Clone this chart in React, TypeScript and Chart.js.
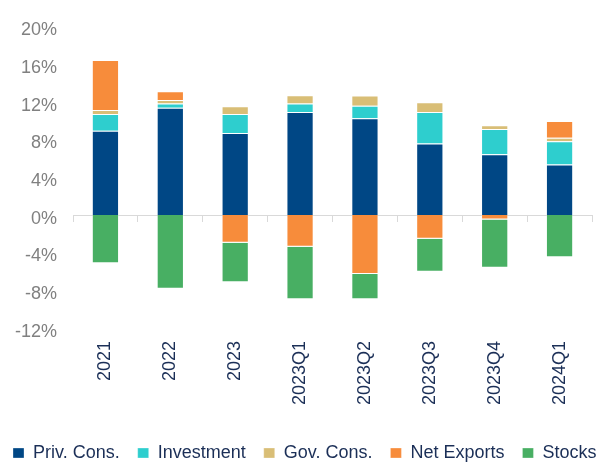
import React, { useEffect, useRef } from 'react';
import { Chart, registerables } from 'chart.js';

Chart.register(...registerables);

const categories = ['2021', '2022', '2023', '2023Q1', '2023Q2', '2023Q3', '2023Q4', '2024Q1'];
const privCons = [8.95, 11.39, 8.71, 10.94, 10.28, 7.59, 6.47, 5.36];
const investment = [1.78, 0.46, 2.02, 0.91, 1.32, 3.35, 2.66, 2.47];
const govCons = [0.42, 0.38, 0.84, 0.87, 1.09, 1.05, 0.42, 0.39];
const netExports = [5.31, 0.91, -2.95, -3.37, -6.26, -2.53, -0.47, 1.78];
const stocks = [-5.11, -7.83, -4.19, -5.58, -2.69, -3.49, -5.13, -4.48];
const yTickLabels = ['-12%', '-8%', '-4%', '0%', '4%', '8%', '12%', '16%', '20%'];

const seriesNames = ['Priv. Cons.', 'Investment', 'Gov. Cons.', 'Net Exports', 'Stocks'];
const seriesColors = ['#004785', '#2ECECE', '#D9BE76', '#F78C3B', '#48AF63'];

const FONT = "'Liberation Sans', Arial, sans-serif";
const NAVY = '#1B2F57';

export default function App() {
  const ref = useRef<HTMLCanvasElement>(null);

  useEffect(() => {
    if (!ref.current) return;
    const series = [privCons, investment, govCons, netExports, stocks];
    const chart = new Chart(ref.current, {
      type: 'bar',
      data: {
        labels: categories,
        datasets: series.map((d, i) => ({
          label: seriesNames[i],
          data: d,
          backgroundColor: seriesColors[i],
          borderColor: 'rgba(255,255,255,0.3)',
          borderWidth: 1,
          xAxisID: 'x',
          yAxisID: 'y',
          categoryPercentage: 1,
          barPercentage: 0.42,
        })),
      },
      options: {
        animation: false,
        responsive: false,
        layout: { padding: { left: -5, right: 0, top: 22.5, bottom: 0 } },
        scales: {
          x: {
            type: 'category',
            position: 'bottom',
            stacked: true,
            offset: true,
            grid: { display: false, drawTicks: false },
            border: { display: false },
            ticks: {
              autoSkip: false,
              minRotation: 90,
              maxRotation: 90,
              padding: 13,
              color: NAVY,
              font: { family: FONT, size: 18 },
            },
            afterFit: (s: any) => {
              s.height = 98;
            },
          } as any,
          x0: {
            type: 'category',
            axis: 'x',
            labels: categories,
            position: { y: 0 },
            offset: true,
            grid: {
              offset: true,
              drawOnChartArea: false,
              drawTicks: true,
              tickLength: 6,
              color: '#d9d9d9',
              lineWidth: 1,
            },
            border: { display: true, color: '#d9d9d9', width: 1 },
            ticks: { display: false },
          } as any,
          y: {
            stacked: true,
            min: -12,
            max: 20,
            grid: { display: false, drawTicks: false },
            border: { display: false },
            ticks: {
              stepSize: 4,
              color: '#808080',
              padding: 16,
              labelOffset: 3.7,
              font: { family: FONT, size: 18 },
              callback: (v: any) => yTickLabels[(Number(v) + 12) / 4] ?? '',
            },
            afterFit: (s: any) => {
              s.width = 78;
            },
          } as any,
          yRight: {
            type: 'linear',
            axis: 'y',
            position: 'right',
            grid: { display: false, drawTicks: false },
            border: { display: false },
            ticks: { display: false },
            afterFit: (s: any) => {
              s.width = 28;
            },
          } as any,
        },
        plugins: {
          legend: {
            position: 'bottom',
            align: 'start',
            labels: {
              boxWidth: 11,
              boxHeight: 10,
              padding: 18,
              color: NAVY,
              font: { family: FONT, size: 18 },
            },
          },
          tooltip: { enabled: false },
        },
      } as any,
    });
    return () => chart.destroy();
  }, []);

  return (
    <div style={{ position: 'fixed', left: 0, top: 0, width: 611, height: 472, overflow: 'hidden', background: '#fff' }}>
      <canvas ref={ref} width={620} height={472} style={{ display: 'block' }} />
    </div>
  );
}
